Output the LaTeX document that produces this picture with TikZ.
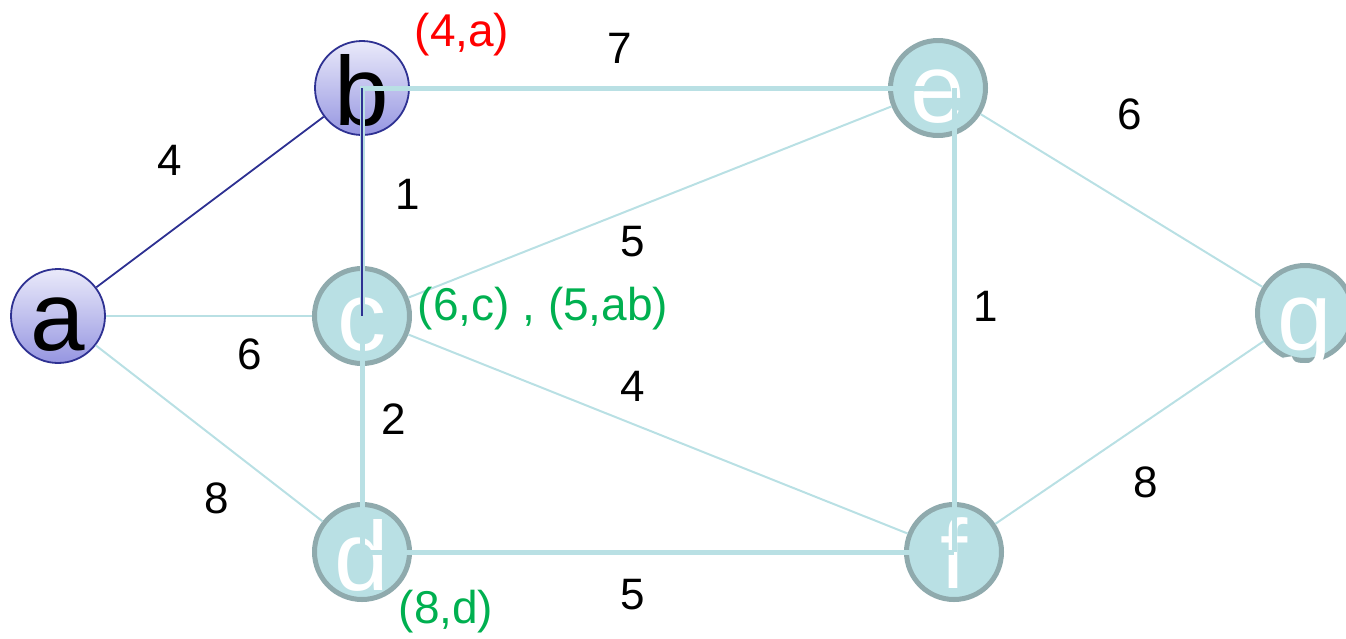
\documentclass[tikz,border=0pt]{standalone}
\usepackage{fontspec}
\setmainfont{Liberation Sans}
\definecolor{tealfill}{RGB}{185,224,228}
\definecolor{tealborder}{RGB}{143,170,173}
\definecolor{navy}{RGB}{46,49,146}
\definecolor{lavtop}{RGB}{234,234,250}
\definecolor{lavbot}{RGB}{150,150,225}
\definecolor{grn}{RGB}{0,176,80}
\begin{document}
\begin{tikzpicture}[x=1pt,y=-1pt,
  vtx/.style={circle, inner sep=0pt, minimum size=95pt, fill=tealfill, draw=tealborder, line width=5pt},
  vtxb/.style={circle, inner sep=0pt, minimum size=94pt, top color=lavtop, bottom color=lavbot, draw=navy, line width=1.8pt},
  ltr/.style={anchor=base, inner sep=0pt, font=\fontsize{98}{98}\selectfont},
  wltr/.style={ltr, text=white},
  thinedge/.style={tealfill, line width=2pt},
  thickedge/.style={tealfill, line width=5pt},
  treeedge/.style={navy, line width=1.8pt},
  lbl/.style={font=\fontsize{44}{44}\selectfont, inner sep=0pt},
  dlbl/.style={font=\fontsize{46}{46}\selectfont, inner sep=0pt},
]
\useasboundingbox (0,0) rectangle (1346,638);
\clip (0,0) rectangle (1346,638);

% vertices
\node[vtxb] (a) at (58,316) {};
\node[vtxb] (b) at (362,88) {};
\node[vtx] (c) at (362,316) {};
\node[vtx] (d) at (362,552) {};
\node[vtx] (e) at (938,88) {};
\node[vtx] (f) at (954,552) {};
\node[vtx] (g) at (1305,313) {};

% thin edges (border to border)
\draw[treeedge] (a) -- (b);
\draw[thinedge] (a) -- (c);
\draw[thinedge] (a) -- (d);
\draw[thinedge] (c) -- (e);
\draw[thinedge] (c) -- (f);
\draw[thinedge] (e) -- (g);
\draw[thinedge] (f) -- (g);

% letters
\node[ltr] (ta) at (58,350) {a};
\node[ltr] (tb) at (362,125) {b};
\node[wltr] (tc) at (362,350) {c};
\node[wltr] (td) at (362,590) {d};
\node[wltr] (te) at (938,122) {e};
\node[wltr] (tf) at (954,588) {f};
\node[wltr] (tg) at (1305,350) {g};

% thick edges (centre to centre, on top)
\draw[thickedge] (e.center) -- (b.center) -- (c.center);
\draw[treeedge] (b.center) -- (c.center);
\draw[thickedge] (c.center) -- (d.center);
\draw[thickedge] (d.center) -- (f.center);
\draw[thickedge] (f.center) -- (f.center |- e.center);

% edge weights
\node[lbl] (w1) at (170,160) {4};
\node[lbl] (w2) at (620,48) {7};
\node[lbl] (w3) at (1130,114) {6};
\node[lbl] (w4) at (408,194) {1};
\node[lbl] (w5) at (633,242) {5};
\node[lbl] (w6) at (986,306) {1};
\node[lbl] (w7) at (250,354) {6};
\node[lbl] (w8) at (633,386) {4};
\node[lbl] (w9) at (394,419) {2};
\node[lbl] (w10) at (217,498) {8};
\node[lbl] (w11) at (1146,482) {8};
\node[lbl] (w12) at (633,595) {5};

% distance labels
\node[dlbl, text=red] (lb) at (462,35) {(4,a)};
\node[dlbl, text=grn] (lc) at (543,309) {(6,c) , (5,ab)};
\node[dlbl, text=grn] (ld) at (446,612) {(8,d)};
\end{tikzpicture}
\end{document}
